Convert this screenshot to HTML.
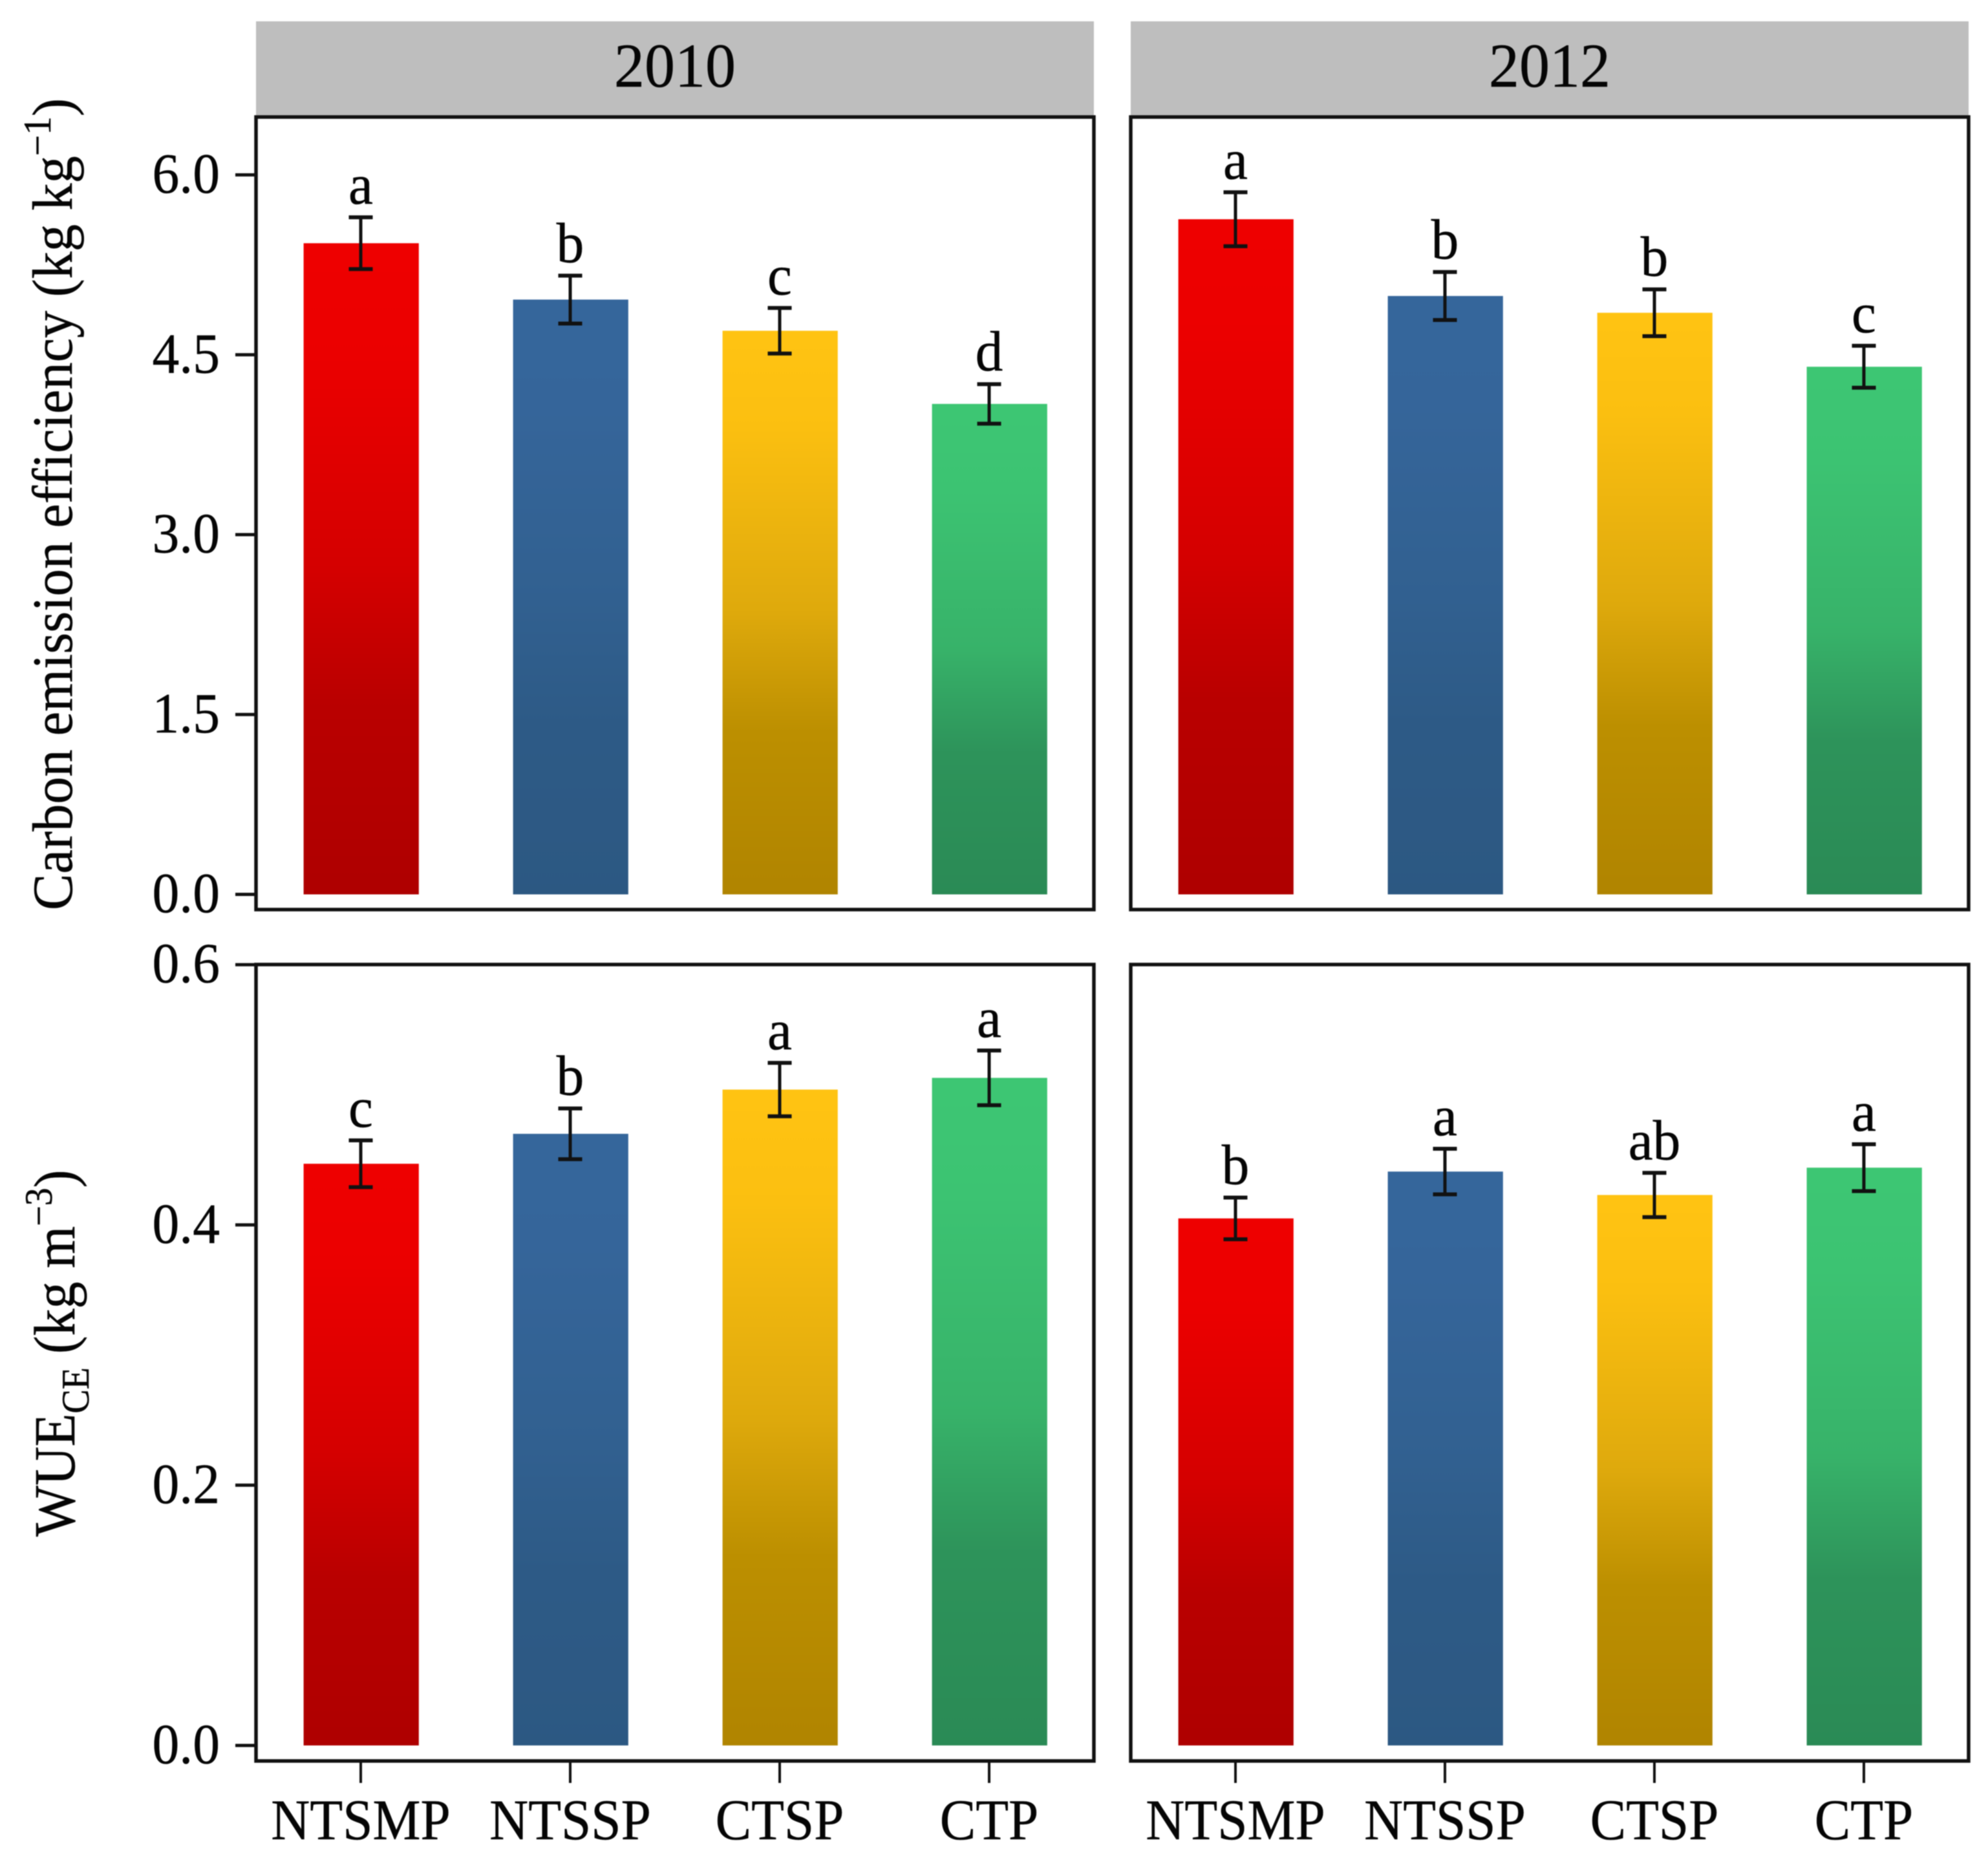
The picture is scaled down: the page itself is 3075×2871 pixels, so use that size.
<!DOCTYPE html>
<html lang="en">
<head>
<meta charset="utf-8">
<title>Carbon emission efficiency and WUE by treatment</title>
<style>
html,body{margin:0;padding:0;background:#fff;width:3075px;height:2871px;overflow:hidden}
svg{display:block;filter:blur(0.7px)}
text{font-family:"Liberation Serif","Times New Roman",serif;fill:#050505;stroke:#050505;stroke-width:.5px}
</style>
</head>
<body>
<svg id="chart" xmlns="http://www.w3.org/2000/svg" width="3075" height="2871" viewBox="0 0 3075 2871">
  <defs>
    <linearGradient id="grad-0" x1="0" y1="0" x2="0" y2="1"><stop offset="0" stop-color="#ee0000"/><stop offset=".17" stop-color="#eb0000"/><stop offset=".5" stop-color="#d40000"/><stop offset=".71" stop-color="#b90000"/><stop offset="1" stop-color="#ae0000"/></linearGradient>
    <linearGradient id="grad-1" x1="0" y1="0" x2="0" y2="1"><stop offset="0" stop-color="#35669b"/><stop offset=".17" stop-color="#35659a"/><stop offset=".5" stop-color="#316090"/><stop offset=".71" stop-color="#2d5a86"/><stop offset="1" stop-color="#2c5882"/></linearGradient>
    <linearGradient id="grad-2" x1="0" y1="0" x2="0" y2="1"><stop offset="0" stop-color="#ffc312"/><stop offset=".17" stop-color="#fbbf10"/><stop offset=".5" stop-color="#dea90c"/><stop offset=".71" stop-color="#bc8f00"/><stop offset="1" stop-color="#b08400"/></linearGradient>
    <linearGradient id="grad-3" x1="0" y1="0" x2="0" y2="1"><stop offset="0" stop-color="#3dc673"/><stop offset=".17" stop-color="#3cc372"/><stop offset=".5" stop-color="#37b269"/><stop offset=".71" stop-color="#2d935a"/><stop offset="1" stop-color="#2a8a55"/></linearGradient>
  </defs>
  <rect x="0" y="0" width="3075" height="2871" fill="#fff"/>
  <text font-size="88" transform="translate(111,1408) rotate(-90) scale(.96,1)">Carbon emission efficiency (kg kg<tspan font-size="60" dy="-33">−1</tspan><tspan dy="33">)</tspan></text>
  <text font-size="90" transform="translate(115,2377) rotate(-90) scale(.93,1)">WUE<tspan font-size="60" dy="22">CE</tspan><tspan dy="-22"> (kg m</tspan><tspan font-size="60" dy="-35">−3</tspan><tspan dy="35">)</tspan></text>
  <g id="plot"></g>
</svg>
<script>
// ---- chart data ----
const categories = ['NTSMP', 'NTSSP', 'CTSP', 'CTP'];
const years = ['2010', '2012'];
const ceValues2010 = [5.43, 4.96, 4.70, 4.09];
const ceErrors2010 = [0.216, 0.20, 0.19, 0.165];
const ceLetters2010 = ['a', 'b', 'c', 'd'];
const ceValues2012 = [5.63, 4.99, 4.85, 4.40];
const ceErrors2012 = [0.225, 0.20, 0.195, 0.175];
const ceLetters2012 = ['a', 'b', 'b', 'c'];
const wueValues2010 = [0.447, 0.470, 0.504, 0.513];
const wueErrors2010 = [0.018, 0.0195, 0.0205, 0.021];
const wueLetters2010 = ['c', 'b', 'a', 'a'];
const wueValues2012 = [0.405, 0.441, 0.423, 0.444];
const wueErrors2012 = [0.016, 0.0175, 0.017, 0.018];
const wueLetters2012 = ['b', 'a', 'ab', 'a'];
const ceTicks = [0, 1.5, 3, 4.5, 6];
const wueTicks = [0, 0.2, 0.4, 0.6];

// ---- layout and axis functions ----
const NS = 'http://www.w3.org/2000/svg';
const plot = document.getElementById('plot');
const panelLefts = [396, 1749];
const panelWidth = 1296;
const unitWidth = panelWidth / categories.length;
const barWidth = unitWidth * 0.55;
const ink = '#111';
function xPos(col, i) { return panelLefts[col] + (i + 0.5) * unitWidth; }
function yCE(v) { return 1383.5 - v * 185.5; }
function yWUE(v) { return 2700 - v * 2013; }

function mk(tag, attrs, txt) {
  const el = document.createElementNS(NS, tag);
  for (const k in attrs) el.setAttribute(k, attrs[k]);
  if (txt !== undefined) el.textContent = txt;
  plot.appendChild(el);
  return el;
}
function line(x1, y1, x2, y2, w) {
  return mk('line', { x1: x1, y1: y1, x2: x2, y2: y2, stroke: ink, 'stroke-width': w });
}
function label(x, y, s, size, sx, anchor) {
  return mk('text', { 'font-size': size, 'text-anchor': anchor, transform: 'translate(' + x + ',' + y + ') scale(' + sx + ',1)' }, s);
}

// ---- facet strips ----
years.forEach(function (yr, c) {
  const strip = mk('rect', { x: panelLefts[c], y: 33, width: panelWidth, height: 146, fill: '#bebebe' });
  
  
  const t = label(panelLefts[c] + panelWidth / 2, 134, yr, 96, 0.98, 'middle');
  
  
});

// ---- one panel ----
function drawPanel(metric, col, vals, errs, letters, yFn, top, bottom) {
  const yr = years[col];
  vals.forEach(function (v, i) {
    const cx = xPos(col, i);
    const bar = mk('rect', { x: cx + 0.7 - barWidth / 2, y: yFn(v), width: barWidth, height: yFn(0) - yFn(v), fill: 'url(#grad-' + i + ')' });
    
    
    const hi = yFn(v + errs[i]), lo = yFn(v - errs[i]);
    const stem = line(cx, hi, cx, lo, 5);
    
    
    const capTop = line(cx - 18.5, hi, cx + 18.5, hi, 6);
    
    
    const capBottom = line(cx - 18.5, lo, cx + 18.5, lo, 6);
    
    
    const sig = label(cx, hi - 21, letters[i], 88, 0.97, 'middle');
    
    
  });
  const frame = mk('rect', { x: panelLefts[col], y: top, width: panelWidth, height: bottom - top, fill: 'none', stroke: ink, 'stroke-width': 5.5 });
  
  
}

drawPanel('ce', 0, ceValues2010, ceErrors2010, ceLetters2010, yCE, 181, 1407);
drawPanel('ce', 1, ceValues2012, ceErrors2012, ceLetters2012, yCE, 181, 1407);
drawPanel('wue', 0, wueValues2010, wueErrors2010, wueLetters2010, yWUE, 1492, 2724);
drawPanel('wue', 1, wueValues2012, wueErrors2012, wueLetters2012, yWUE, 1492, 2724);

// ---- y axes ----
function drawYAxis(metric, ticks, yFn, digits) {
  ticks.forEach(function (v) {
    const y = yFn(v);
    const tick = line(364, y, 396, y, 5);
    
    
    const t = label(340, y + 27.5, v.toFixed(digits), 88, 0.95, 'end');
    
    
  });
}
drawYAxis('ce', ceTicks, yCE, 1);
drawYAxis('wue', wueTicks, yWUE, 1);

// ---- x axes ----
years.forEach(function (yr, c) {
  categories.forEach(function (cat, i) {
    const cx = xPos(c, i);
    const tick = line(cx, 2724, cx, 2758, 4);
    
    
    const t = label(cx, 2845, cat, 89, 0.935, 'middle');
    
    
  });
});
</script>
</body>
</html>
